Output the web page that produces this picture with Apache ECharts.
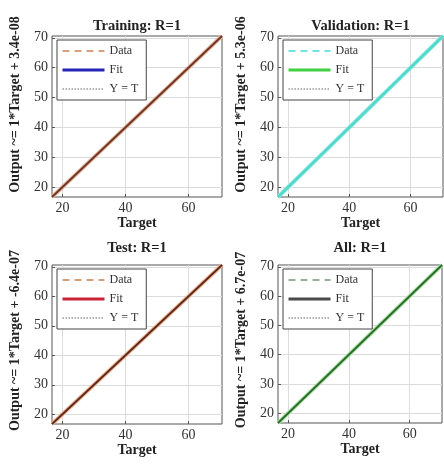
<!DOCTYPE html>
<html>
<head>
<meta charset="utf-8">
<script src="https://cdn.jsdelivr.net/npm/echarts@6/dist/echarts.min.js"></script>
<style>
  html, body { margin: 0; padding: 0; background: #fff; }
  #chart { width: 444px; height: 465px; }
</style>
</head>
<body>
<div id="chart"></div>
<script>
// panel values
const panelTitles = ['Training: R=1', 'Validation: R=1', 'Test: R=1', 'All: R=1']
const yLabels = [
  'Output ~= 1*Target + 3.4e-08',
  'Output ~= 1*Target + 5.3e-06',
  'Output ~= 1*Target + -6.4e-07',
  'Output ~= 1*Target + 6.7e-07'
]
const targets = [16.7, 25, 35, 45, 55, 65, 70.6]
const outputs = [16.7, 25, 35, 45, 55, 65, 70.6]
const fitEnds = [16.7, 70.6]
const axisMin = 16.7
const axisMax = 70.6
const xTicks = [20, 40, 60]
const yTicks = [20, 30, 40, 50, 60, 70]

// legend colours, and the colours the overlapping lines end up looking like
const dataLegend = ['#d9a07c', '#6fe3e6', '#d9a07c', '#9aae9a']
const fitLegend = ['#2424b8', '#3fcf3f', '#cc2236', '#4a4a4a']
const haloColor = ['#e6b596', '#7de6de', '#f2b48e', '#a6e2a0']
const coreColor = ['#6e3328', '#4fd6c8', '#5a2820', '#2c6a2c']

const grids = [
  { left: 52, top: 36, width: 170, height: 161, titleY: 26, nameShift: 24 },
  { left: 278, top: 36, width: 165, height: 161, titleY: 26, nameShift: 24 },
  { left: 52, top: 265, width: 170, height: 159, titleY: 248, nameShift: 8 },
  { left: 278, top: 265, width: 164, height: 158, titleY: 248, nameShift: 8 }
]

const font = 'Liberation Serif'
const chart = echarts.init(document.getElementById('chart'))

const option = {
  animation: false,
  backgroundColor: '#fff',
  grid: [],
  xAxis: [],
  yAxis: [],
  legend: [],
  series: [],
  graphic: []
}

grids.forEach((g, i) => {
  option.grid.push({
    left: g.left, top: g.top, width: g.width, height: g.height,
    show: true, borderColor: '#555', borderWidth: 1, backgroundColor: '#fff'
  })
  option.xAxis.push({
    type: 'value', gridIndex: i, min: axisMin, max: axisMax,
    name: 'Target', nameLocation: 'middle', nameGap: 17,
    nameTextStyle: { fontFamily: font, fontWeight: 'bold', fontSize: 14, color: '#222' },
    axisLine: { show: false },
    axisTick: { show: true, inside: true, length: 3, customValues: xTicks, lineStyle: { color: '#555' } },
    axisLabel: { customValues: xTicks, fontFamily: font, fontSize: 14, color: '#333', margin: 4 },
    splitLine: { show: true, lineStyle: { color: '#dcdcdc', width: 1 } }
  })
  option.yAxis.push({
    type: 'value', gridIndex: i, min: axisMin, max: axisMax,
    name: yLabels[i], nameLocation: 'middle', nameGap: 30, nameRotate: 90,
    nameTextStyle: { fontFamily: font, fontWeight: 'bold', fontSize: 14, color: '#222', padding: [0, 0, 0, g.nameShift] },
    axisLine: { show: false },
    axisTick: { show: true, inside: true, length: 3, customValues: yTicks, lineStyle: { color: '#555' } },
    axisLabel: { customValues: yTicks, fontFamily: font, fontSize: 14, color: '#333', margin: 4 },
    splitLine: { show: true, lineStyle: { color: '#dcdcdc', width: 1 } }
  })
  option.legend.push({
    orient: 'vertical',
    left: g.left + 5, top: g.top + 4,
    itemWidth: 42, itemHeight: 10, itemGap: 7,
    padding: [5, 8, 5, 4],
    backgroundColor: '#fff', borderColor: '#444', borderWidth: 1,
    textStyle: { fontFamily: font, fontSize: 12, color: '#333' },
    formatter: name => name.split('#')[0],
    data: [
      { name: 'Data#' + i, itemStyle: { opacity: 0 }, lineStyle: { color: dataLegend[i], width: 2, type: [7, 5] } },
      { name: 'Fit#' + i, itemStyle: { opacity: 0 }, lineStyle: { color: fitLegend[i], width: 3, type: 'solid' } },
      { name: 'Y = T#' + i, itemStyle: { opacity: 0 }, lineStyle: { color: '#999', width: 1.5, type: 'dotted' } }
    ]
  })
  option.series.push({
    name: 'Y = T#' + i, type: 'line', xAxisIndex: i, yAxisIndex: i,
    symbol: 'none', z: 1,
    lineStyle: { color: '#aaa', width: 1, type: 'dotted' },
    data: fitEnds.map(v => [v, v])
  })
  option.series.push({
    name: 'Data#' + i, type: 'line', xAxisIndex: i, yAxisIndex: i,
    symbol: 'none', z: 2,
    lineStyle: { color: haloColor[i], width: 4 },
    data: targets.map((t, k) => [t, outputs[k]])
  })
  option.series.push({
    name: 'Fit#' + i, type: 'line', xAxisIndex: i, yAxisIndex: i,
    symbol: 'none', z: 3,
    lineStyle: { color: coreColor[i], width: 1.8 },
    data: fitEnds.map(v => [v, v])
  })
  option.graphic.push({
    type: 'text',
    x: g.left + g.width / 2, y: g.titleY,
    style: {
      text: panelTitles[i], textAlign: 'center', textVerticalAlign: 'middle',
      font: 'bold 14.5px "' + font + '"', fill: '#222'
    }
  })
})

chart.setOption(option)
</script>
</body>
</html>
